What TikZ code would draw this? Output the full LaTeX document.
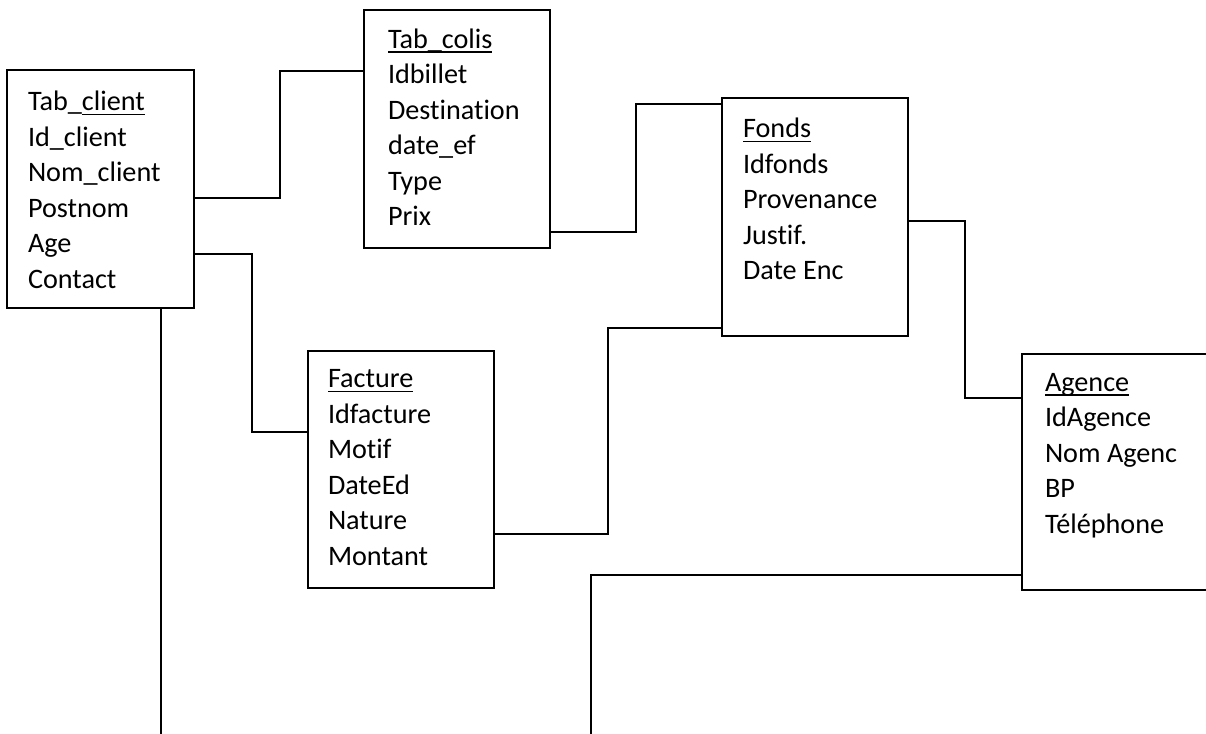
\documentclass[tikz,border=0pt]{standalone}
\usepackage{fontspec}
\setmainfont{Carlito}[Ligatures=NoCommon]
\usetikzlibrary{calc}
% underline drawn as a rule a little below the baseline
\newsavebox{\ulbox}
\newcommand{\ulword}[1]{\sbox{\ulbox}{#1}\rlap{\rule[-4.8pt]{\wd\ulbox}{1.8pt}}\usebox{\ulbox}}
\begin{document}
\begin{tikzpicture}[x=1pt,y=-1pt,
  tablebox/.style={draw=black, line width=2pt, inner sep=0pt, outer sep=0pt,
    anchor=north west, minimum width=186pt, minimum height=238pt},
  % anchored at the baseline of the last field
  fields/.style={anchor=base west, inner sep=0pt, outer sep=0pt, align=left,
    font=\fontsize{28.2pt}{35.5pt}\selectfont},
  link/.style={draw=black, line width=2pt}]
\useasboundingbox (0,0) rectangle (1206,733);
\clip (0,0) rectangle (1206,733);

% entity boxes
\node[tablebox, minimum width=187pt] (client)  at (7,70)    {};
\node[tablebox] (colis)   at (364,10)  {};
\node[tablebox] (fonds)   at (722,98)  {};
\node[tablebox, minimum height=237pt] (facture) at (308,351) {};
\node[tablebox, minimum width=200pt, minimum height=236pt] (agence) at (1022,354) {};

% field lists
\node[fields] (client-t)  at (28,288)    {Tab\_\ulword{client}\\Id\_client\\Nom\_client\\Postnom\\Age\\Contact};
\node[fields] (colis-t)   at (388,225.5) {\ulword{Tab\_colis}\\Idbillet\\Destination\\date\_ef\\Type\\Prix};
\node[fields] (fonds-t)   at (743,279.5) {\ulword{Fonds}\\Idfonds\\Provenance\\Justif.\\Date Enc};
\node[fields] (facture-t) at (328,565)   {\ulword{Facture}\\Idfacture\\Motif\\DateEd\\Nature\\Montant};
\node[fields] (agence-t)  at (1045,533)  {\ulword{Agence}\\IdAgence\\Nom Agenc\\BP\\Téléphone};

% links between entities
\draw[link] ($(client.north east)+(0,128)$) -- ++(86,0) |- ($(colis.north west)+(0,61)$);
\draw[link] ($(client.north east)+(0,184)$) -- ++(58,0) |- ($(facture.north west)+(0,81)$);
\draw[link] ($(client.south west)+(154,0)$) -- ++(0,450);
\draw[link] ($(colis.north east)+(0,222)$) -- ++(86,0) |- ($(fonds.north west)+(0,6)$);
\draw[link] ($(facture.north east)+(0,183)$) -- ++(114,0) |- ($(fonds.north west)+(0,230)$);
\draw[link] ($(fonds.north east)+(0,123)$) -- ++(57,0) |- ($(agence.north west)+(0,44)$);
\draw[link] ($(agence.north west)+(0,221)$) -- ++(-431,0) -- ++(0,200);
\end{tikzpicture}
\end{document}
